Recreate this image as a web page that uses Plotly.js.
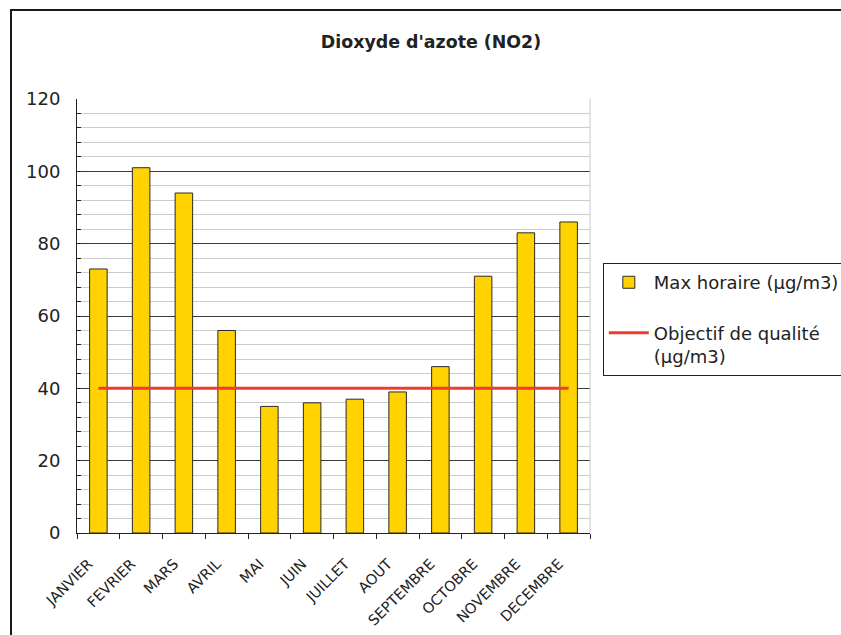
<!DOCTYPE html>
<html><head><meta charset="utf-8">
<script src="https://cdn.plot.ly/plotly-3.0.1.min.js"></script>
<style>
html,body{margin:0;padding:0;overflow:hidden;background:#fff}
#chart{position:absolute;left:0;top:0;width:841px;height:635px}
#frame{position:absolute;left:10px;top:9px;width:900px;height:700px;border:2px solid #1a1a1a;pointer-events:none}
</style>
</head><body>
<div id="chart"></div><div id="frame"></div>
<script>
const months = ["JANVIER","FEVRIER","MARS","AVRIL","MAI","JUIN","JUILLET","AOUT","SEPTEMBRE","OCTOBRE","NOVEMBRE","DECEMBRE"];
const maxHoraire = [73,101,94,56,35,36,37,39,46,71,83,86];
const objectif = [40,40,40,40,40,40,40,40,40,40,40,40];
const yTicks = [0,20,40,60,80,100,120];

const FONT = "DejaVu Sans, Verdana, sans-serif";
const PAD = "\u00a0\u00a0\u00a0";

const traces = [
  {
    type: "bar", x: months, y: maxHoraire, name: "Max horaire (µg/m3)",
    width: 0.41, legendgroup: "a",
    marker: {color: "#FFD200", line: {color: "#2a2a2a", width: 1}},
    hoverinfo: "x+y"
  },
  {
    type: "scatter", mode: "lines", x: months, y: objectif,
    name: "Objectif de qualité<br>(µg/m3)", legendgroup: "b",
    line: {color: "#F03C2E", width: 3}
  }
];

const layout = {
  width: 841, height: 635,
  margin: {l: 77, r: 251, t: 99, b: 102, autoexpand: false},
  paper_bgcolor: "rgba(0,0,0,0)", plot_bgcolor: "#fff",
  font: {family: FONT, color: "#222", size: 18},
  title: {text: "<b>Dioxyde d'azote (NO2)</b>", font: {family: FONT, size: 17.4, color: "#222"},
          x: 0.5125, xref: "container", xanchor: "center", y: 0.934, yref: "container", yanchor: "middle"},
  showlegend: true,
  legend: {x: 1.025, xanchor: "left", y: 0.622, yanchor: "top",
           bordercolor: "#222", borderwidth: 1, bgcolor: "rgba(0,0,0,0)",
           font: {family: FONT, size: 18, color: "#222"},
           traceorder: "grouped", tracegroupgap: 24, valign: "top", itemwidth: 40},
  xaxis: {type: "category", tickson: "boundaries", ticks: "outside", ticklen: 5, tickcolor: "#222",
          showline: true, linecolor: "#222", linewidth: 1, showgrid: false,
          tickvals: months, ticktext: months.map(m => m + PAD),
          ticklabelstandoff: 6,
          tickangle: -45, tickfont: {family: FONT, size: 14.5, color: "#222"}, range: [-0.5, 11.5]},
  yaxis: {range: [0, 120], tickvals: yTicks, ticks: "inside", ticklen: 4, tickcolor: "#222",
          showline: true, linecolor: "#222", linewidth: 1,
          showgrid: true, gridcolor: "#3a3a3a", gridwidth: 1, zeroline: false,
          ticklabelstandoff: 12,
          tickfont: {family: FONT, size: 18, color: "#222"},
          minor: {dtick: 4, tick0: 0, ticks: "inside", ticklen: 4, tickcolor: "#222",
                  showgrid: true, gridcolor: "#cccccc", gridwidth: 1}},
  shapes: [{type: "line", xref: "paper", yref: "paper", x0: 1, x1: 1, y0: 0, y1: 1,
            line: {color: "#c8c8c8", width: 1}}]
};

Plotly.newPlot("chart", traces, layout, {displayModeBar: false, staticPlot: true});
</script>
</body></html>
